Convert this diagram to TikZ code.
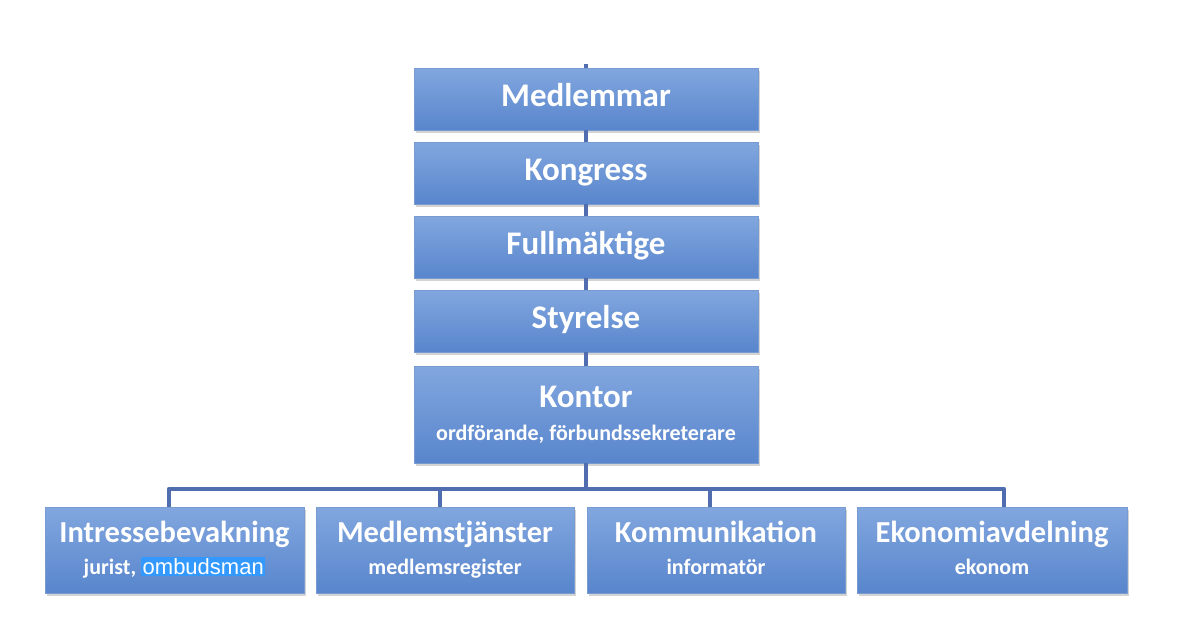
\documentclass[tikz,border=0pt]{standalone}
\usepackage{fontspec}
\setmainfont{Carlito}
\newfontfamily\hlfont{Liberation Sans}
\usepackage{xcolor}
\usetikzlibrary{shadows}
\definecolor{boxtop}{RGB}{130, 167, 223}
\definecolor{boxbottom}{RGB}{88, 133, 204}
\definecolor{boxedge}{RGB}{120, 155, 210}
\definecolor{linkblue}{RGB}{80, 110, 175}
\definecolor{selblue}{RGB}{51, 153, 255}
\newcommand{\toptitle}{\fontsize{33}{38}\selectfont\bfseries\strut}
\newcommand{\deptitle}{\fontsize{30.5}{36}\selectfont\bfseries\strut}
\newcommand{\subfont}{\fontsize{22}{26}\selectfont\bfseries\strut}

\tikzset{
    orgbox/.style={rectangle, draw=boxedge, line width=0.8pt, top color=boxtop, bottom color=boxbottom,
        text=white, align=center, inner sep=0pt,
        drop shadow={opacity=0.35, shadow xshift=2pt, shadow yshift=-3pt}},
    link/.style={linkblue, line width=4.5pt, line join=round}
}

\begin{document}
\begin{tikzpicture}[x=1pt, y=-1pt]
            \useasboundingbox (0, 0) rectangle (1201, 643);

            % top chain
            \node[orgbox, minimum width=344pt, minimum height=62pt] (medl) at (586, 99) {\toptitle Medlemmar};
            \node[orgbox, minimum width=344pt, minimum height=62pt] (kong) at (586, 173) {\toptitle Kongress};
            \node[orgbox, minimum width=344pt, minimum height=62pt] (full) at (586, 247) {\toptitle Fullmäktige};
            \node[orgbox, minimum width=344pt, minimum height=62pt] (styr) at (586, 321) {\toptitle Styrelse};
            \node[orgbox, minimum width=344pt, minimum height=97pt] (kontor) at (586, 414.5)
                {\toptitle Kontor\\[2pt]\subfont ordförande, förbundssekreterare};

            % departments
            \node[orgbox, minimum width=259pt, minimum height=86pt] (intr) at (174.5, 550)
                {\deptitle Intressebevakning\\[2pt]\subfont jurist, {\setlength{\fboxsep}{1.5pt}\colorbox{selblue}{\hlfont\mdseries ombudsman}}};
            \node[orgbox, minimum width=258pt, minimum height=86pt] (medt) at (445, 550)
                {\deptitle Medlemstjänster\\[2pt]\subfont medlemsregister};
            \node[orgbox, minimum width=258pt, minimum height=86pt] (komm) at (716, 550)
                {\deptitle Kommunikation\\[2pt]\subfont informatör};
            \node[orgbox, minimum width=270pt, minimum height=86pt] (ekon) at (992, 550)
                {\deptitle Ekonomiavdelning\\[2pt]\subfont ekonom};

            % connectors
            \coordinate (top) at (586, 64);
            \coordinate (bus) at (586, 489);
            \draw[link] (top) -- (medl.north);
            \draw[link] (medl.south) -- (kong.north);
            \draw[link] (kong.south) -- (full.north);
            \draw[link] (full.south) -- (styr.north);
            \draw[link] (styr.south) -- (kontor.north);
            \draw[link] (kontor.south) -- (bus);
            \draw[link] ([xshift=-5.5pt]intr.north) |- (bus) -| ([xshift=12pt]ekon.north);
            \draw[link] ([xshift=-5pt]medt.north) -- ([xshift=-5pt]medt.north |- bus);
            \draw[link] ([xshift=-6pt]komm.north) -- ([xshift=-6pt]komm.north |- bus);
        \end{tikzpicture}
\end{document}
